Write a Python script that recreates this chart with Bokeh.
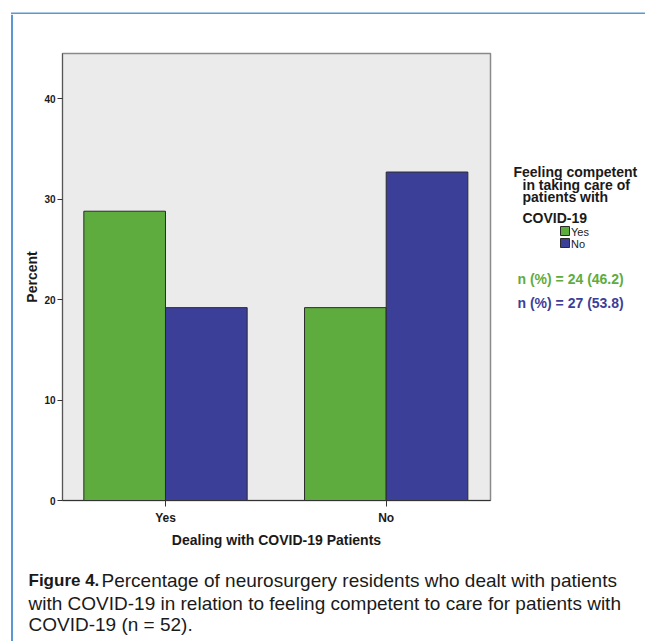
import numpy as np
from bokeh.plotting import figure
from bokeh.models import Range1d, FixedTicker, BoxAnnotation
from bokeh.layouts import column, row
from bokeh.core.properties import value
from bokeh.embed import file_html
from bokeh.resources import INLINE

# ---- data (percent of n = 52) ----
categories = ["Yes", "No"]                     # Dealing with COVID-19 patients
competent_yes = [28.8, 19.2]                   # Feeling competent: Yes
competent_no = [19.2, 32.7]                    # Feeling competent: No
y_ticks = [0, 10, 20, 30, 40]
legend_title_lines = ["Feeling competent", "in taking care of", "patients with", "COVID-19"]
series_labels = ["Yes", "No"]
n_texts = ["n (%) = 24 (46.2)", "n (%) = 27 (53.8)"]
caption_bold = "Figure 4."
caption_lines = ["Percentage of neurosurgery residents who dealt with patients",
                 "with COVID-19 in relation to feeling competent to care for patients with",
                 "COVID-19 (n = 52)."]

GREEN = "#5fac3e"
BLUE = "#3c3f98"
BORDER = "#5b97d3"
TXT = "#1a1a1a"
FONT = "Liberation Sans"

# main chart block in page pixels
CH_X, CH_Y, CH_W, CH_H = 13, 14, 479, 539
BL, BR, BT, BB = 49, 2, 39, 53


def blank(w, h, xr, yr, t=0, b=0):
    f = figure(width=w, height=h, output_backend="svg", toolbar_location=None,
               x_axis_location=None, y_axis_location=None,
               min_border_left=0, min_border_right=0, min_border_top=t, min_border_bottom=b,
               x_range=Range1d(*xr), y_range=Range1d(*yr))
    f.xgrid.visible = False
    f.ygrid.visible = False
    f.outline_line_color = None
    f.border_fill_color = "white"
    f.background_fill_color = "white"
    return f


# blue page frame (top and left strips), coordinates in page pixels
top_strip = blank(645, CH_Y, (0, 645), (CH_Y, 0))
top_strip.add_layout(BoxAnnotation(left=10.5, right=645, top=12, bottom=14.5,
                                   fill_color=BORDER, fill_alpha=1, line_color=None))
left_strip = blank(CH_X, 641 - CH_Y, (0, CH_X), (641, CH_Y))
left_strip.add_layout(BoxAnnotation(left=10.5, right=12.5, top=CH_Y, bottom=641,
                                    fill_color=BORDER, fill_alpha=1, line_color=None))

# ---- main chart ----
p = figure(width=CH_W, height=CH_H, output_backend="svg", toolbar_location=None,
           x_range=Range1d(-0.4667, 1.4726), y_range=Range1d(0, 44.5),
           min_border_left=BL, min_border_right=BR, min_border_top=BT, min_border_bottom=BB)
p.background_fill_color = "#ebebeb"
p.border_fill_color = "white"
p.outline_line_color = "#8a8a8a"
p.outline_line_width = 1.5
p.xgrid.visible = False
p.ygrid.visible = False

xpos = np.arange(len(categories), dtype=float)
bw = 0.37
p.vbar(x=xpos - bw / 2, top=competent_yes, width=bw, bottom=0,
       fill_color=GREEN, line_color="#2b2b2b", line_width=1)
p.vbar(x=xpos + bw / 2, top=competent_no, width=bw, bottom=0,
       fill_color=BLUE, line_color="#2b2b2b", line_width=1)

xa = p.xaxis[0]
xa.ticker = FixedTicker(ticks=list(xpos))
xa.major_label_overrides = {i: c for i, c in enumerate(categories)}
xa.major_label_text_font = FONT
xa.major_label_text_font_style = "bold"
xa.major_label_text_font_size = "12px"
xa.major_label_text_color = TXT
xa.major_label_standoff = 4
xa.major_tick_out = 6
xa.major_tick_in = 0
xa.minor_tick_line_color = None
xa.axis_line_color = "#333333"
xa.major_tick_line_color = "#333333"
xa.axis_label = "Dealing with COVID-19 Patients"
xa.axis_label_text_font = FONT
xa.axis_label_text_font_style = "bold"
xa.axis_label_text_font_size = "14px"
xa.axis_label_text_color = TXT
xa.axis_label_standoff = 4

ya = p.yaxis[0]
ya.ticker = FixedTicker(ticks=y_ticks)
ya.major_label_text_font = FONT
ya.major_label_text_font_style = "bold"
ya.major_label_text_font_size = "10px"
ya.major_label_text_color = TXT
ya.major_label_standoff = 2
ya.major_tick_out = 5
ya.major_tick_in = 0
ya.minor_tick_line_color = None
ya.axis_line_color = "#555555"
ya.major_tick_line_color = "#333333"
ya.axis_label = "Percent"
ya.axis_label_text_font = FONT
ya.axis_label_text_font_style = "bold"
ya.axis_label_text_font_size = "14px"
ya.axis_label_text_color = TXT
ya.axis_label_standoff = 1

# ---- legend panel on the right (frame aligned with chart frame; page pixel coords) ----
SX = CH_X + CH_W
side = blank(645 - SX, CH_H, (SX, 645), (CH_Y + CH_H - BB, CH_Y + BT), t=BT, b=BB)
side.text(x=[513, 522, 522, 522], y=[171, 184, 196.5, 217], text=legend_title_lines,
          text_font=value(FONT), text_font_style="bold", text_font_size="14px",
          text_color=TXT, text_baseline="alphabetic")
side.quad(left=[560, 560], right=[569, 569], top=[226, 238], bottom=[235, 247],
          fill_color=[GREEN, BLUE], line_color="#2b2b2b", line_width=1)
side.text(x=[570.5, 570.5], y=[231, 243], text=series_labels, text_font=value(FONT),
          text_font_size="11px", text_color=TXT, text_baseline="middle")
side.text(x=[517, 517], y=[278, 302], text=n_texts, text_color=[GREEN, BLUE],
          text_font=value(FONT), text_font_style="bold", text_font_size="14px",
          text_baseline="middle")

# ---- caption (page pixel coords) ----
CY = CH_Y + CH_H
cap = blank(645 - CH_X, 641 - CY, (CH_X, 645), (641, CY))
cap.text(x=[28], y=[580], text=[caption_bold], text_font=value(FONT),
         text_font_style="bold", text_font_size="17px", text_color=TXT,
         text_baseline="alphabetic")
cap.text(x=[101, 28, 28], y=[580, 602.5, 624], text=caption_lines, text_font=value(FONT),
         text_font_size="19px", text_color=TXT, text_baseline="alphabetic")

layout = column(top_strip,
                row(left_strip, column(row(p, side, spacing=0), cap, spacing=0), spacing=0),
                spacing=0)
open("out.html", "w").write(file_html(layout, INLINE))
